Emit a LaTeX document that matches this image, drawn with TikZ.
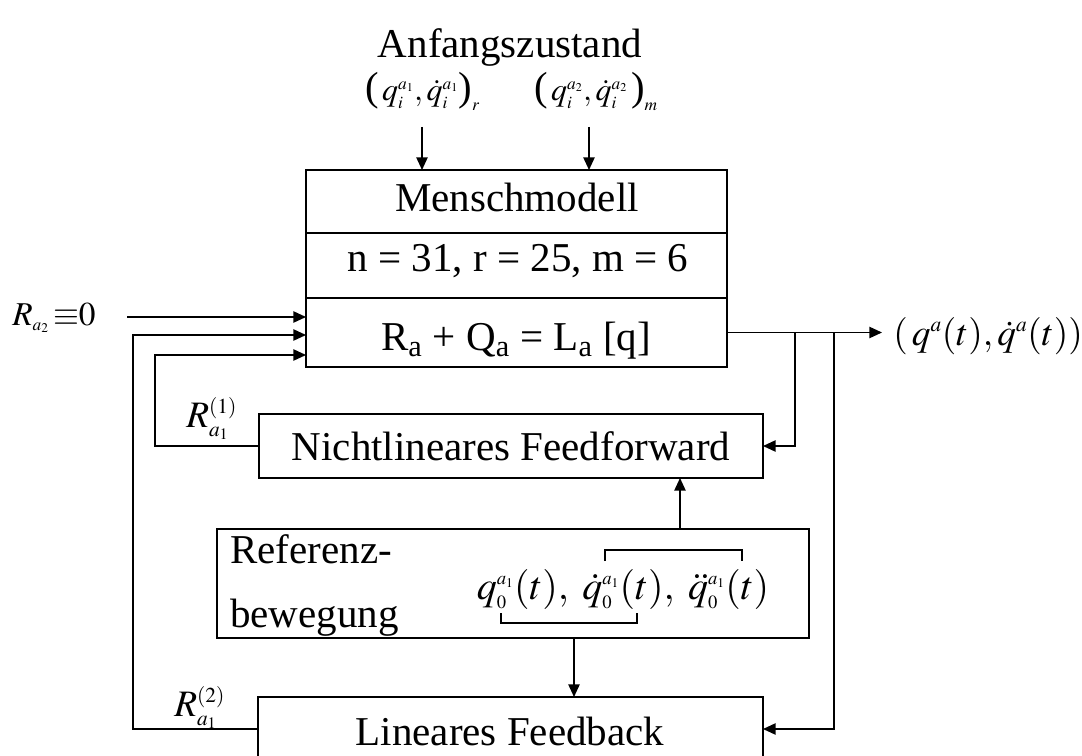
\documentclass[tikz,border=0pt]{standalone}
\usepackage{amsmath}
\usepackage{mathptmx}
\usepackage[no-math]{fontspec}
\setmainfont{Liberation Serif}
\usetikzlibrary{arrows.meta}

% small script sizes for the formula labels
\DeclareMathSizes{24}{24}{13}{9}
\DeclareMathSizes{25}{25}{13}{10}
\DeclareMathSizes{28}{28}{16}{12}
\DeclareMathSizes{30}{30}{14}{10}

\newcommand\mainsize{\fontsize{30.75pt}{36pt}\selectfont}
\newcommand\inisize{\fontsize{24pt}{28pt}\selectfont}
\newcommand\rzsize{\fontsize{25pt}{30pt}\selectfont}
\newcommand\formsize{\fontsize{30pt}{34pt}\selectfont}
\newcommand\outsize{\fontsize{28pt}{32pt}\selectfont}
% tall parentheses round the initial values
\newcommand\tallp[1]{\text{\fontsize{30.5pt}{34pt}\selectfont #1}}

\begin{document}
\begin{tikzpicture}[x=0.75pt,y=-0.75pt,
  box/.style={draw, line width=1.1pt, inner sep=0pt, outer sep=0pt},
  txt/.style={inner sep=0pt, font=\mainsize},
  frm/.style={inner sep=0pt, font=\formsize},
  ini/.style={inner sep=0pt, font=\inisize},
  lbl/.style={inner sep=0pt, font=\outsize},
  arr/.style={line width=1.1pt, -{Triangle[length=9.5pt,width=8.5pt]}},
  brk/.style={line width=0.9pt}]
\useasboundingbox (0,0) rectangle (1082,756);
\clip (0,0) rectangle (1082,756);

% initial state and its two inputs
\node[txt, anchor=base] (anf) at (510,58) {Anfangszustand};
\node[ini, anchor=base] (ini1) at (422.5,101) {$\tallp{(}\,q_i^{a_1},\dot q_i^{a_1}\tallp{)}_r$};
\node[ini, anchor=base] (ini2) at (596,101) {$\tallp{(}\,q_i^{a_2},\dot q_i^{a_2}\,\tallp{)}_m$};

% human model block
\node[box, minimum width=315.75pt, minimum height=47.25pt] (mtop) at (516.5,201.5) {};
\node[box, minimum width=315.75pt, minimum height=48.75pt] (mmid) at (516.5,265.5) {};
\node[box, minimum width=315.75pt, minimum height=51.75pt] (mbot) at (516.5,332.5) {};
\node[txt, anchor=base] (mtopt) at (517,212) {Menschmodell};
\node[txt, anchor=base] (mmidt) at (518,272) {n = 31, r = 25, m = 6};
\node[txt, anchor=base] (mbott) at (516,350) {R\textsubscript{a} + Q\textsubscript{a} = L\textsubscript{a} [q]};

\coordinate (ta1) at (422,127);
\coordinate (ta2) at (589,127);
\draw[arr] (ta1) -- (ta1 |- mtop.north);
\draw[arr] (ta2) -- (ta2 |- mtop.north);

% controller blocks
\node[box, minimum width=378pt, minimum height=48pt] (ff) at (511,446) {};
\node[txt, anchor=base] (fft) at (511,460) {Nichtlineares Feedforward};

\node[box, minimum width=444pt, minimum height=81.75pt] (ref) at (513,583.5) {};
\node[txt, anchor=base west] (ref1) at (230,563) {Referenz-};
\node[txt, anchor=base west] (ref2) at (230,627) {bewegung};
\node[frm, anchor=base] (refq) at (623,599)
  {$q_0^{a_1}(t),\; \dot q_0^{a_1}(t),\; \ddot q_0^{a_1}(t)$};
\draw[brk] (605,561) -- (605,550) -- (742,550) -- (742,561);
\draw[brk] (501,613) -- (501,623) -- (637,623) -- (637,613);

\node[box, minimum width=378.75pt, minimum height=48pt] (lf) at (510.5,729) {};
\node[txt, anchor=base] (lft) at (510,745) {Lineares Feedback};

% left inputs of the model
\node[inner sep=0pt, font=\rzsize, anchor=base west] (rzero) at (12,325) {$R_{a_2}\,{\equiv}0$};
\coordinate (rin) at (127,317);
\draw[arr] (rin) -- (rin -| mbot.west);

\coordinate (fb2) at (133,335);
\draw[arr] (lf.west) -| (fb2) -- (fb2 -| mbot.west);
\coordinate (fb1) at (155,355);
\draw[arr] (ff.west) -| (fb1) -- (fb1 -| mbot.west);
\node[lbl, anchor=base west] (r1) at (186,427) {$R_{a_1}^{(1)}$};
\node[lbl, anchor=base west] (r2) at (174,716) {$R_{a_1}^{(2)}$};

% model output and its branches
\coordinate (otip) at (882,332.5);
\draw[arr] (mbot.east) -- (otip);
\node[lbl, anchor=base west] (out) at (893,345) {$(\,q^a(t), \dot q^a(t))$};
\coordinate (b1) at (795,332.5);
\coordinate (b2) at (834,332.5);
\draw[arr] (b1) |- (ff.east);
\draw[arr] (b2) |- (lf.east);

% reference motion feeds both controllers
\coordinate (ua) at (680,0);
\coordinate (da) at (574,0);
\draw[arr] (ref.north -| ua) -- (ff.south -| ua);
\draw[arr] (ref.south -| da) -- (lf.north -| da);
\end{tikzpicture}
\end{document}
